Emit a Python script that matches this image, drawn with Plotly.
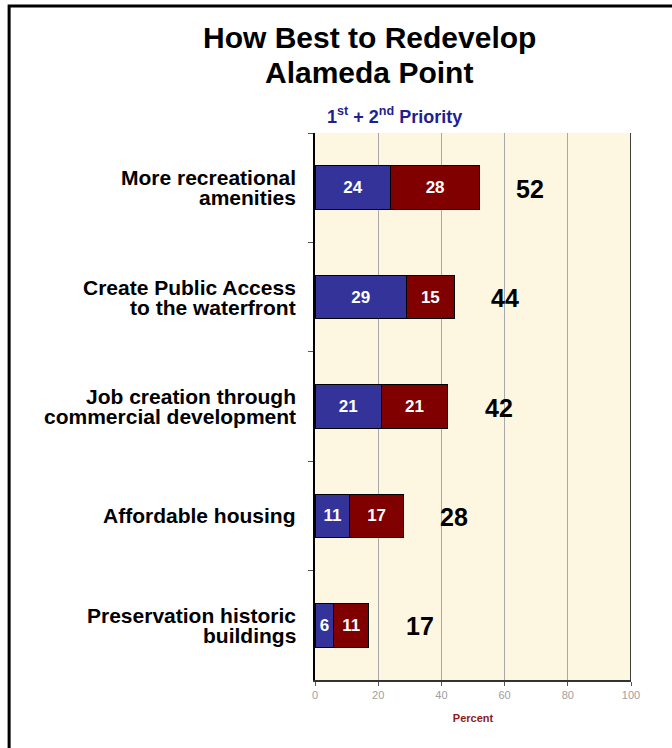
import plotly.graph_objects as go

categories = [
    "More recreational amenities",
    "Create Public Access to the waterfront",
    "Job creation through commercial development",
    "Affordable housing",
    "Preservation historic buildings",
]
category_lines = [
    ["More recreational", "amenities"],
    ["Create Public Access", "to the waterfront"],
    ["Job creation through", "commercial development"],
    ["Affordable housing"],
    ["Preservation historic", "buildings"],
]
first_priority = [24, 29, 21, 11, 6]
second_priority = [28, 15, 21, 17, 11]
totals = [52, 44, 42, 28, 17]
x_ticks = [0, 20, 40, 60, 80, 100]
title_lines = ["How Best to Redevelop", "Alameda Point"]

FONT = "Arial, Liberation Sans, sans-serif"

fig = go.Figure()
for vals, color in ((first_priority, "#333399"), (second_priority, "#800000")):
    fig.add_trace(go.Bar(
        y=categories, x=vals, orientation="h",
        marker=dict(color=color, line=dict(color="#000000", width=1)),
        text=vals, textposition="inside", insidetextanchor="middle",
        textfont=dict(color="white", size=17, family=FONT, weight="bold"),
        width=0.4, hoverinfo="x+y",
    ))

# Totals to the right of each stacked bar
for cat, tot in zip(categories, totals):
    fig.add_annotation(
        x=tot, y=cat, xref="x", yref="y", text=f"<b>{tot}</b>",
        showarrow=False, xanchor="center", xshift=51, yshift=-1,
        font=dict(size=25, color="black", family=FONT),
    )

# Category labels, right-aligned with tight line spacing
for cat, lines in zip(categories, category_lines):
    n = len(lines)
    for i, line in enumerate(lines):
        fig.add_annotation(
            x=-0.054, y=cat, xref="paper", yref="y", text=f"<b>{line}</b>",
            showarrow=False, xanchor="right", yanchor="middle",
            yshift=(n - 1) * 10 - i * 20,
            font=dict(size=21, color="black", family=FONT),
        )

# Right edge of the plot area
fig.add_shape(type="line", xref="x", yref="paper", x0=100, x1=100, y0=0, y1=1,
              line=dict(color="#000000", width=1.5))

# Page frame (top and left edges)
fig.add_shape(type="rect", xref="paper", yref="paper",
              x0=-0.968, x1=1.3, y0=-0.2, y1=1.232,
              line=dict(color="#000000", width=3), layer="above")

for text, ypos in zip(title_lines, (1.1755, 1.1097)):
    fig.add_annotation(
        text=f"<b>{text}</b>",
        xref="paper", yref="paper", x=0.172, y=ypos, xanchor="center", yanchor="middle",
        showarrow=False, font=dict(size=30, color="black", family=FONT),
    )
fig.add_annotation(
    text="<b>1<sup>st</sup> + 2<sup>nd</sup> Priority</b>",
    xref="paper", yref="paper", x=0.253, y=1.008, xanchor="center", yanchor="bottom",
    showarrow=False, font=dict(size=18, color="#1F1F8F", family=FONT),
)

fig.update_layout(
    width=672, height=748,
    barmode="stack",
    showlegend=False,
    paper_bgcolor="white",
    plot_bgcolor="#FDF6E0",
    margin=dict(l=315, r=41, t=133, b=68),
    font=dict(family=FONT),
    xaxis=dict(
        range=[0, 100], tickvals=x_ticks, showgrid=True, gridcolor="#A8A8A8", gridwidth=1,
        zeroline=False, showline=True, linecolor="#333333", linewidth=1.5,
        ticks="outside", ticklen=4, tickcolor="#555555",
        tickfont=dict(size=11, color="#A0A0A0", family=FONT),
        title=dict(text="<b>Percent</b>", font=dict(size=11, color="#8B1A1A", family=FONT),
                   standoff=14),
    ),
    yaxis=dict(
        autorange="reversed", tickson="boundaries", showgrid=False,
        showline=True, linecolor="#000000", linewidth=1.5,
        ticks="outside", ticklen=5, tickcolor="#555555",
        showticklabels=False,
    ),
)

fig.write_html("out.html")
